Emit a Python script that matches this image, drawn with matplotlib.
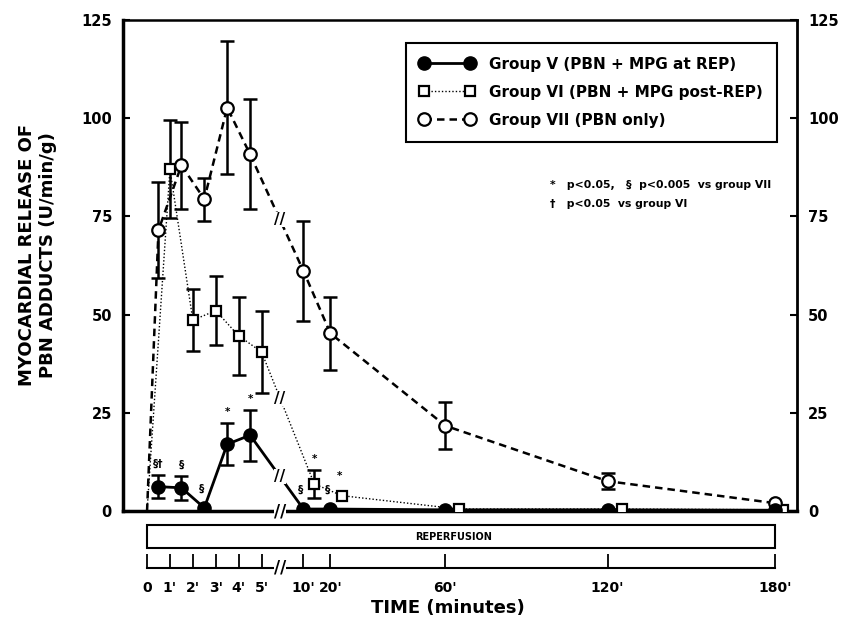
import numpy as np
import matplotlib.pyplot as plt
from matplotlib.lines import Line2D
from matplotlib.patches import Rectangle

plt.rcParams['font.family'] = 'DejaVu Sans'
plt.rcParams['font.weight'] = 'bold'

# broken time axis: minutes -> position along the axis
axis_minutes = [0, 1, 2, 3, 4, 5, 10, 20, 60, 120, 180]
axis_pos = [0, 1, 2, 3, 4, 5, 6.83, 8.01, 13.03, 20.11, 27.42]
tick_labels = ["0", "1'", "2'", "3'", "4'", "5'", "10'", "20'", "60'", "120'", "180'"]
break_minute = 7.2

# Group V (PBN + MPG at REP)
t5 = [0.5, 1.5, 2.5, 3.5, 4.5, 10, 20, 60, 120, 180]
y5 = [6.2, 5.9, 0.8, 17.0, 19.3, 0.5, 0.5, 0.3, 0.3, 0.2]
e5 = [3, 3, 0, 5.3, 6.5, 0, 0, 0, 0, 0]

# Group VI (PBN + MPG post-REP)
t6 = [1, 2, 3, 4, 5, 14, 24, 65, 125, 183]
y6 = [87.0, 48.6, 51.0, 44.6, 40.5, 6.9, 3.9, 0.5, 0.5, 0.3]
e6 = [12.5, 7.8, 8.8, 10, 10.5, 3.5, 0, 0, 0, 0]

# Group VII (PBN only)
t7 = [0.5, 1.5, 2.5, 3.5, 4.5, 10, 20, 60, 120, 180]
y7 = [71.5, 88.0, 79.4, 102.7, 90.8, 61.1, 45.2, 21.7, 7.6, 2.0]
e7 = [12.2, 11, 5.5, 17, 14, 12.8, 9.3, 6, 2, 0]

# significance marks: (group, point index, symbol)
marks = [("V", 0, "§†"), ("V", 1, "§"), ("V", 2, "§"), ("V", 3, "*"), ("V", 4, "*"),
         ("V", 5, "§"), ("V", 6, "§"), ("VI", 5, "*"), ("VI", 6, "*")]

legend_labels = ["Group V (PBN + MPG at REP)",
                 "Group VI (PBN + MPG post-REP)",
                 "Group VII (PBN only)"]

# extend the knots linearly so the scale works past 0 and 180
T_ext = np.array([-10] + axis_minutes + [300], dtype=float)
P_ext = np.array([-10] + axis_pos + [axis_pos[-1] + 120 * (axis_pos[-1] - axis_pos[-2]) / 60], dtype=float)


def fwd(t):
    return np.interp(t, T_ext, P_ext)


def inv(p):
    return np.interp(p, P_ext, T_ext)


W, H = 843, 623


def px_rect(l, t, r, b):
    return [l / W, 1 - b / H, (r - l) / W, (b - t) / H]


def break_mark(ax, x, y, size=11, transform=None):
    ax.text(x, y, "//", ha='center', va='center', fontsize=size, fontweight='bold',
            transform=transform if transform is not None else ax.transData,
            bbox=dict(facecolor='white', edgecolor='none', pad=0), clip_on=False, zorder=6)


def y_at_break(t, y):
    p = fwd(np.array(t, dtype=float))
    return np.interp(fwd(break_minute), p, y)


fig = plt.figure(figsize=(8.43, 6.23), dpi=100)
ax = fig.add_axes(px_rect(123, 20, 797, 511))
ax.set_xscale('function', functions=(fwd, inv))
ax.set_xlim(-1.05, 187.9)
ax.set_ylim(0, 125)

# lines
ax.plot(t5, y5, color='k', lw=2, zorder=3)
ax.plot([0] + t6, [0] + y6, color='k', lw=1, ls=(0, (1, 1.5)), zorder=2)
ax.plot([0] + t7, [0] + y7, color='k', lw=1.8, ls=(0, (3, 2)), zorder=2)

# error bars
for t, y, e in [(t5, y5, e5), (t6, y6, e6), (t7, y7, e7)]:
    t, y, e = np.array(t), np.array(y), np.array(e)
    m = e > 0
    ax.errorbar(t[m], y[m], yerr=e[m], fmt='none', ecolor='k', elinewidth=1.8,
                capsize=5, capthick=1.8, zorder=3)

# markers
ax.plot(t6, y6, ls='none', marker='s', ms=7.5, mfc='white', mec='k', mew=1.6, zorder=4)
ax.plot(t7, y7, ls='none', marker='o', ms=9, mfc='white', mec='k', mew=1.6, zorder=5)
ax.plot(t5, y5, ls='none', marker='o', ms=9.5, mfc='k', mec='k', zorder=5)

# axis breaks on the lines and the bottom spine
break_mark(ax, break_minute, y_at_break(t5, y5))
break_mark(ax, break_minute, y_at_break(t6, y6))
break_mark(ax, break_minute, y_at_break(t7, y7))
break_mark(ax, break_minute, 0, size=12)

# significance symbols
groups = {"V": (t5, y5, e5), "VI": (t6, y6, e6)}
for g, i, s in marks:
    t, y, e = groups[g]
    top = y[i] + e[i]
    dy = 8 if e[i] > 0 else 14
    dx = 0 if e[i] > 0 else -2
    ax.annotate(s, (t[i], top), xytext=(dx, dy), textcoords='offset points',
                ha='center', va='center', fontsize=7.5, fontweight='bold')

for side in ['left', 'bottom']:
    ax.spines[side].set_linewidth(2.5)
ax.spines['right'].set_linewidth(2)
ax.spines['top'].set_linewidth(1.8)
ax.set_xticks([])
ax.set_yticks([0, 25, 50, 75, 100, 125])
ax.tick_params(axis='y', direction='in', length=5, width=1.5, right=True,
               labelright=True, labelsize=10.5, pad=8)

handles = [Line2D([], [], color='k', lw=2, marker='o', ms=9.5, mfc='k', mec='k'),
           Line2D([], [], color='k', lw=1, ls=(0, (1, 1.5)), marker='s', ms=7.5, mfc='white', mec='k', mew=1.6),
           Line2D([], [], color='k', lw=1.8, ls=(0, (3, 2)), marker='o', ms=9, mfc='white', mec='k', mew=1.6)]
leg = ax.legend(handles, legend_labels, loc='upper left', bbox_to_anchor=(0.42, 0.953),
                fontsize=11, numpoints=2, handlelength=3.6, handletextpad=0.95,
                labelspacing=0.85, borderpad=0.9, fancybox=False, framealpha=1,
                edgecolor='k', borderaxespad=0)
leg.get_frame().set_linewidth(1.5)

fig.text(550 / W, 1 - 185 / H, "*   p<0.05,   §  p<0.005  vs group VII", fontsize=7.8,
         va='center', ha='left')
fig.text(550 / W, 1 - 204 / H, "†   p<0.05  vs group VI", fontsize=7.8, va='center', ha='left')

# reperfusion bar and the time axis below
ax_t = fig.add_axes(px_rect(123, 525, 797, 568))
ax_t.set_xscale('function', functions=(fwd, inv))
ax_t.set_xlim(-1.05, 187.9)
ax_t.set_ylim(0, 1)
ax_t.patch.set_visible(False)
for side in ['top', 'left', 'right']:
    ax_t.spines[side].set_visible(False)
ax_t.spines['bottom'].set_bounds(0, 180)
ax_t.spines['bottom'].set_linewidth(1.5)
ax_t.set_yticks([])
ax_t.set_xticks(axis_minutes)
ax_t.set_xticklabels(tick_labels)
ax_t.tick_params(axis='x', direction='in', length=10, width=1.3, pad=9, labelsize=10)
ax_t.add_patch(Rectangle((0, 0.465), 180, 0.535, fill=False, edgecolor='k', lw=1.5, clip_on=False))
ax_t.text(0.49, 0.73, "REPERFUSION", transform=ax_t.transAxes, ha='center', va='center', fontsize=7)
break_mark(ax_t, break_minute, 0, size=12)

fig.text(27 / W, 1 - 255 / H, "MYOCARDIAL RELEASE OF", rotation=90, ha='center', va='center', fontsize=13)
fig.text(48 / W, 1 - 255 / H, "PBN ADDUCTS (U/min/g)", rotation=90, ha='center', va='center', fontsize=13)
fig.text(448 / W, 1 - 608 / H, "TIME (minutes)", ha='center', va='center', fontsize=13)

fig.savefig("out.png", dpi=100)
